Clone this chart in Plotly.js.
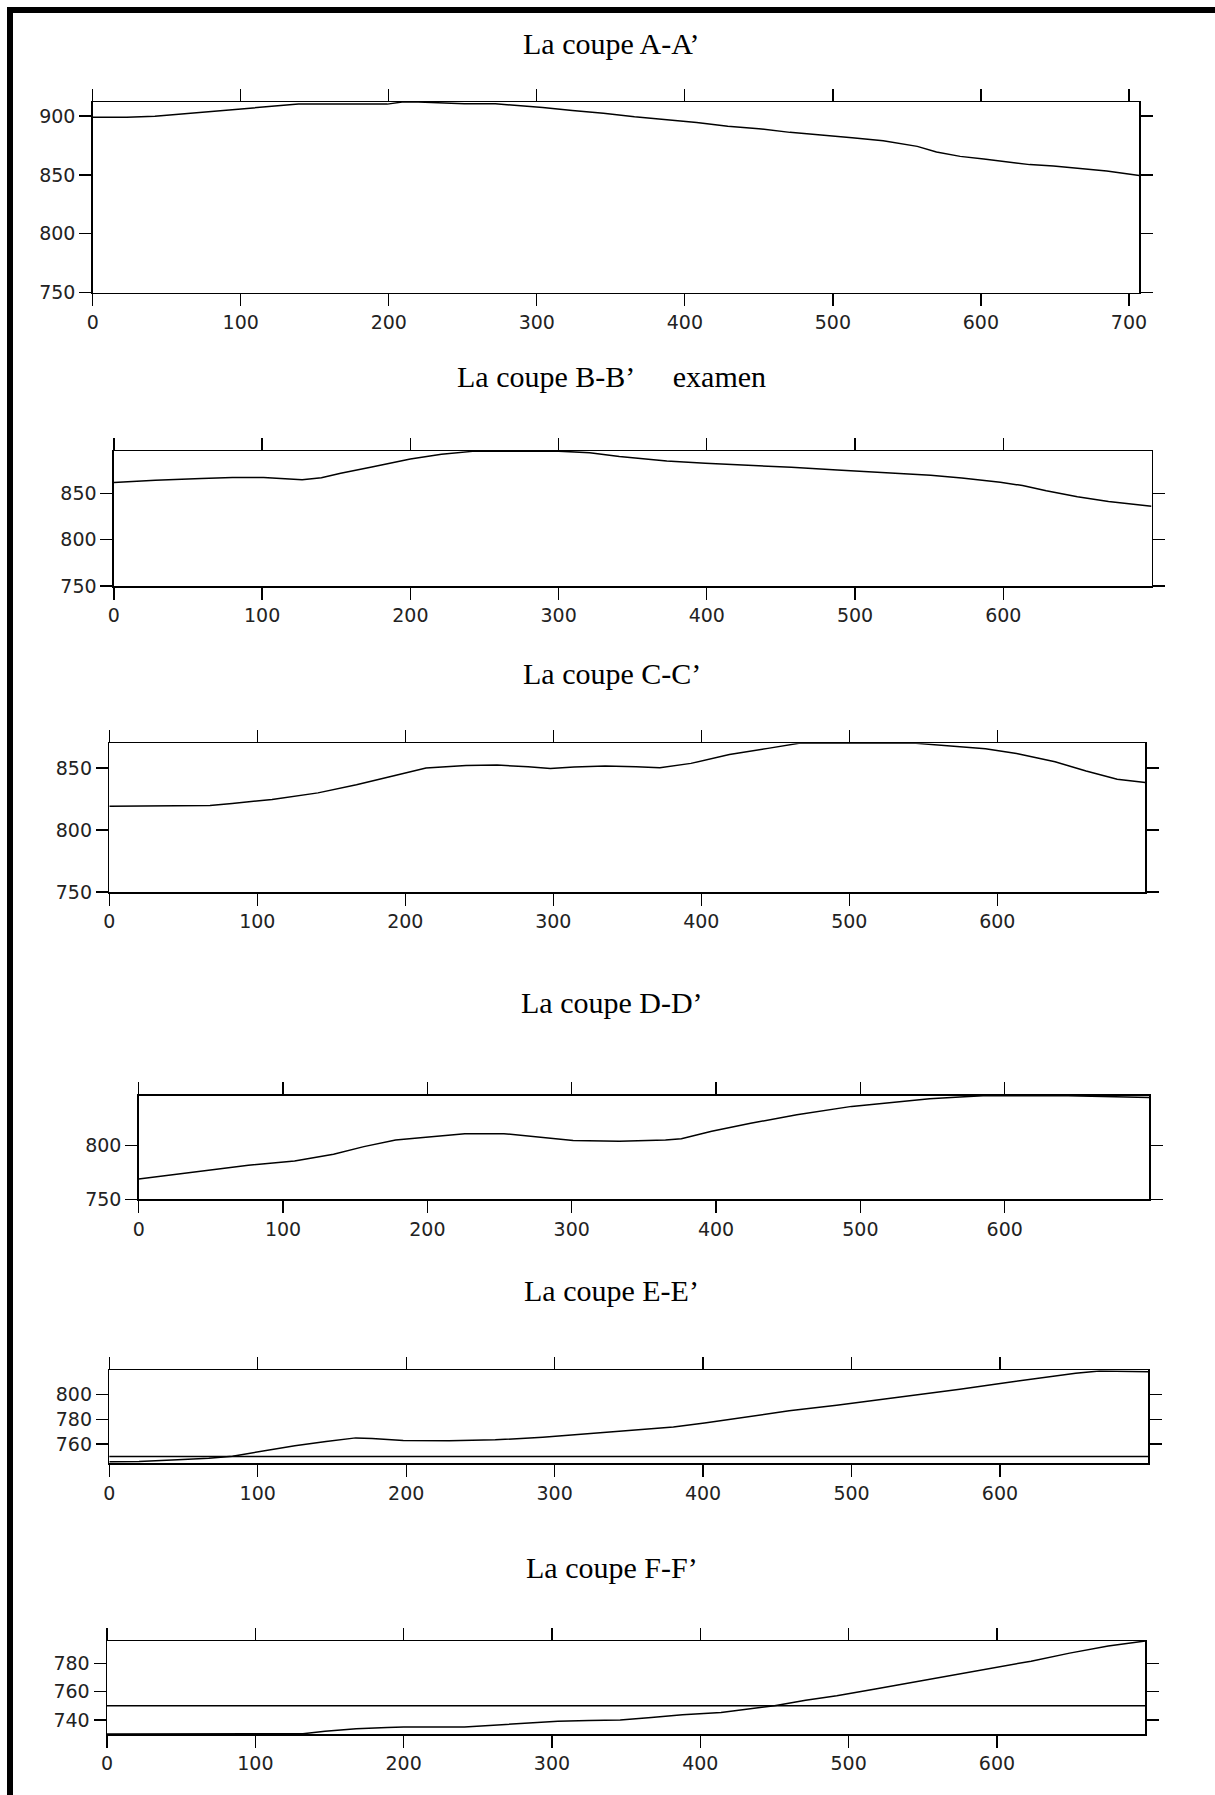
<!DOCTYPE html>
<html>
<head>
<meta charset="utf-8">
<script src="https://cdn.plot.ly/plotly-3.0.1.min.js"></script>
<style>html,body{margin:0;padding:0;background:#fff}</style>
</head>
<body>
<div id="chart" style="width:1215px;height:1795px"></div>
<script>
// ---- data ----
const titles = ["La coupe A-A’", "La coupe B-B’\u00A0\u00A0\u00A0\u00A0 examen", "La coupe C-C’", "La coupe D-D’", "La coupe E-E’", "La coupe F-F’"];

const xA = [0, 23, 42, 58, 76, 94, 110, 126, 139, 199, 209, 220, 251, 272, 288, 304, 324, 345, 366, 387, 408, 429, 450, 471, 492, 513, 534, 557, 570, 586, 602, 617, 633, 649, 670, 685, 707];
const yA = [899, 899, 900, 901.7, 903, 905.4, 906.8, 908.8, 910.2, 910.2, 911.9, 912, 910.5, 910.5, 909, 907.3, 904.8, 902.5, 899.4, 897.2, 894.6, 891.5, 889.3, 886.2, 884.2, 881.6, 879, 874.3, 869.5, 865.8, 863.6, 861.3, 858.8, 857.6, 855.1, 853.4, 849.6];

const xB = [0, 28, 59, 80, 101, 127, 140, 153, 174, 200, 221, 242, 300, 321, 341, 373, 399, 425, 457, 488, 514, 551, 572, 598, 613, 629, 650, 671, 700];
const yB = [861.9, 864.4, 866.2, 867.3, 867.3, 865, 867, 872, 878.8, 887.4, 892.4, 895.6, 895.8, 894.2, 890, 885.3, 882.7, 881, 878.4, 875.5, 873, 869.8, 866.9, 862.2, 858.6, 852.9, 846.4, 841.4, 836.3];

const xC = [0, 31, 68, 83, 110, 141, 167, 193, 214, 241, 262, 283, 298, 314, 335, 356, 372, 393, 419, 445, 466, 545, 566, 592, 613, 639, 660, 681, 700];
const yC = [819.3, 819.8, 819.8, 821.4, 824.7, 830, 836.5, 844, 850, 852.1, 852.4, 851, 849.7, 850.8, 851.6, 851, 850.3, 853.8, 861, 865.9, 870, 870, 868, 865.6, 861.8, 855.1, 847.6, 841, 838.4];

const xD = [0, 27, 54, 76, 108, 135, 156, 178, 199, 226, 253, 279, 301, 333, 365, 376, 397, 424, 456, 494, 521, 548, 569, 585, 644, 700];
const yD = [768.8, 773.1, 777.8, 781.5, 785.5, 791.7, 798.8, 805, 807.4, 810.8, 810.8, 807.1, 804.6, 803.7, 805, 806.2, 813, 820.4, 828.4, 836.1, 839.8, 843.2, 844.7, 846, 846, 844.4];

const xE = [0, 20, 46, 67, 83, 104, 125, 146, 166, 177, 198, 229, 260, 292, 323, 354, 380, 401, 427, 458, 490, 516, 547, 573, 599, 625, 651, 667, 700];
const yE = [745.7, 746, 747.3, 748.6, 750.2, 754.7, 758.7, 762.1, 765, 764.5, 762.9, 762.6, 763.4, 765.6, 768.5, 771.4, 773.8, 777, 781.5, 786.8, 791.3, 795.2, 800, 804.2, 808.7, 813, 817.2, 819, 818.3];

const xF = [0, 32, 100, 132, 147, 168, 189, 200, 241, 262, 283, 304, 325, 346, 367, 388, 414, 429, 450, 471, 492, 518, 544, 570, 596, 623, 649, 675, 700];
const yF = [730, 730, 730.2, 730.2, 731.9, 733.8, 734.7, 735, 735, 736.2, 737.8, 739, 739.5, 740, 741.7, 743.6, 745.3, 747.2, 750, 753.9, 757.2, 762, 766.8, 771.9, 776.6, 781.7, 787.4, 792.4, 796];

const xTicksA = [0, 100, 200, 300, 400, 500, 600, 700];
const xTicks = [0, 100, 200, 300, 400, 500, 600];
const yTicksA = [750, 800, 850, 900];
const yTicksB = [750, 800, 850];
const yTicksC = [750, 800, 850];
const yTicksD = [750, 800];
const yTicksE = [760, 780, 800];
const yTicksF = [740, 760, 780];

const xRanges = [[0, 707], [0, 700], [0, 700], [0, 700], [0, 700], [0, 700]];
const yRanges = [[750, 912], [750, 896], [750, 870], [750, 846], [744.5, 819.5], [730, 796]];
const refLevel = 750; // horizontal reference line drawn in E and F

// ---- layout (pixel boxes: left, right, top, bottom) ----
const W = 1215, H = 1795;
const boxes = [
  [92.7, 1139.3, 102, 292.7],
  [113.9, 1151.5, 451, 586],
  [109.3, 1145.3, 743.3, 892],
  [138.7, 1149, 1095.7, 1199.3],
  [109.3, 1148.4, 1370.3, 1463.3],
  [107, 1145.3, 1641, 1734]
];
const titleY = [43, 377, 673, 1003, 1290, 1567];

const series = [
  {x: xA, y: yA, xt: xTicksA, yt: yTicksA},
  {x: xB, y: yB, xt: xTicks, yt: yTicksB},
  {x: xC, y: yC, xt: xTicks, yt: yTicksC},
  {x: xD, y: yD, xt: xTicks, yt: yTicksD},
  {x: xE, y: yE, xt: xTicks, yt: yTicksE},
  {x: xF, y: yF, xt: xTicks, yt: yTicksF}
];

const traces = [];
const layout = {
  width: W, height: H,
  margin: {l: 0, r: 0, t: 0, b: 0},
  showlegend: false,
  paper_bgcolor: '#fff', plot_bgcolor: '#fff',
  annotations: [], shapes: []
};
const tickFont = {family: 'DejaVu Sans, Arial, sans-serif', size: 19, color: '#222'};

series.forEach((s, i) => {
  const n = i === 0 ? '' : String(i + 1);
  const b = boxes[i];
  traces.push({
    type: 'scatter', mode: 'lines', x: s.x, y: s.y,
    xaxis: 'x' + n, yaxis: 'y' + n,
    line: {color: '#000', width: 1.5}, hoverinfo: 'skip'
  });
  const common = {
    ticks: 'outside', ticklen: 12, tickwidth: 1.3, tickcolor: '#000',
    mirror: 'ticks', showline: true, linecolor: '#000', linewidth: 1.5,
    showgrid: false, zeroline: false, tickfont: tickFont, fixedrange: true
  };
  layout['xaxis' + n] = Object.assign({}, common, {
    domain: [b[0] / W, b[1] / W], anchor: 'y' + n,
    range: xRanges[i], tickvals: s.xt, ticktext: s.xt.map(String)
  });
  layout['yaxis' + n] = Object.assign({}, common, {
    domain: [1 - b[3] / H, 1 - b[2] / H], anchor: 'x' + n,
    range: yRanges[i], tickvals: s.yt, ticktext: s.yt.map(String)
  });
  layout.annotations.push({
    text: titles[i], xref: 'paper', yref: 'paper',
    x: 612 / W, y: 1 - titleY[i] / H, xanchor: 'center', yanchor: 'middle',
    showarrow: false,
    font: {family: 'Liberation Serif, Times New Roman, serif', size: 30, color: '#000'}
  });
  if (i >= 4) {
    layout.shapes.push({
      type: 'line', xref: 'x' + n + ' domain', yref: 'y' + n,
      x0: 0, x1: 1, y0: refLevel, y1: refLevel,
      line: {color: '#000', width: 1.6}
    });
  }
});

// page frame (left and top thick bars)
layout.shapes.push({type: 'line', xref: 'paper', yref: 'paper', x0: 10 / W, x1: 10 / W, y0: 0, y1: 1 - 7 / H, line: {color: '#000', width: 6}});
layout.shapes.push({type: 'line', xref: 'paper', yref: 'paper', x0: 7 / W, x1: 1, y0: 1 - 10 / H, y1: 1 - 10 / H, line: {color: '#000', width: 6}});

Plotly.newPlot('chart', traces, layout, {displayModeBar: false, staticPlot: true});
</script>
</body>
</html>
